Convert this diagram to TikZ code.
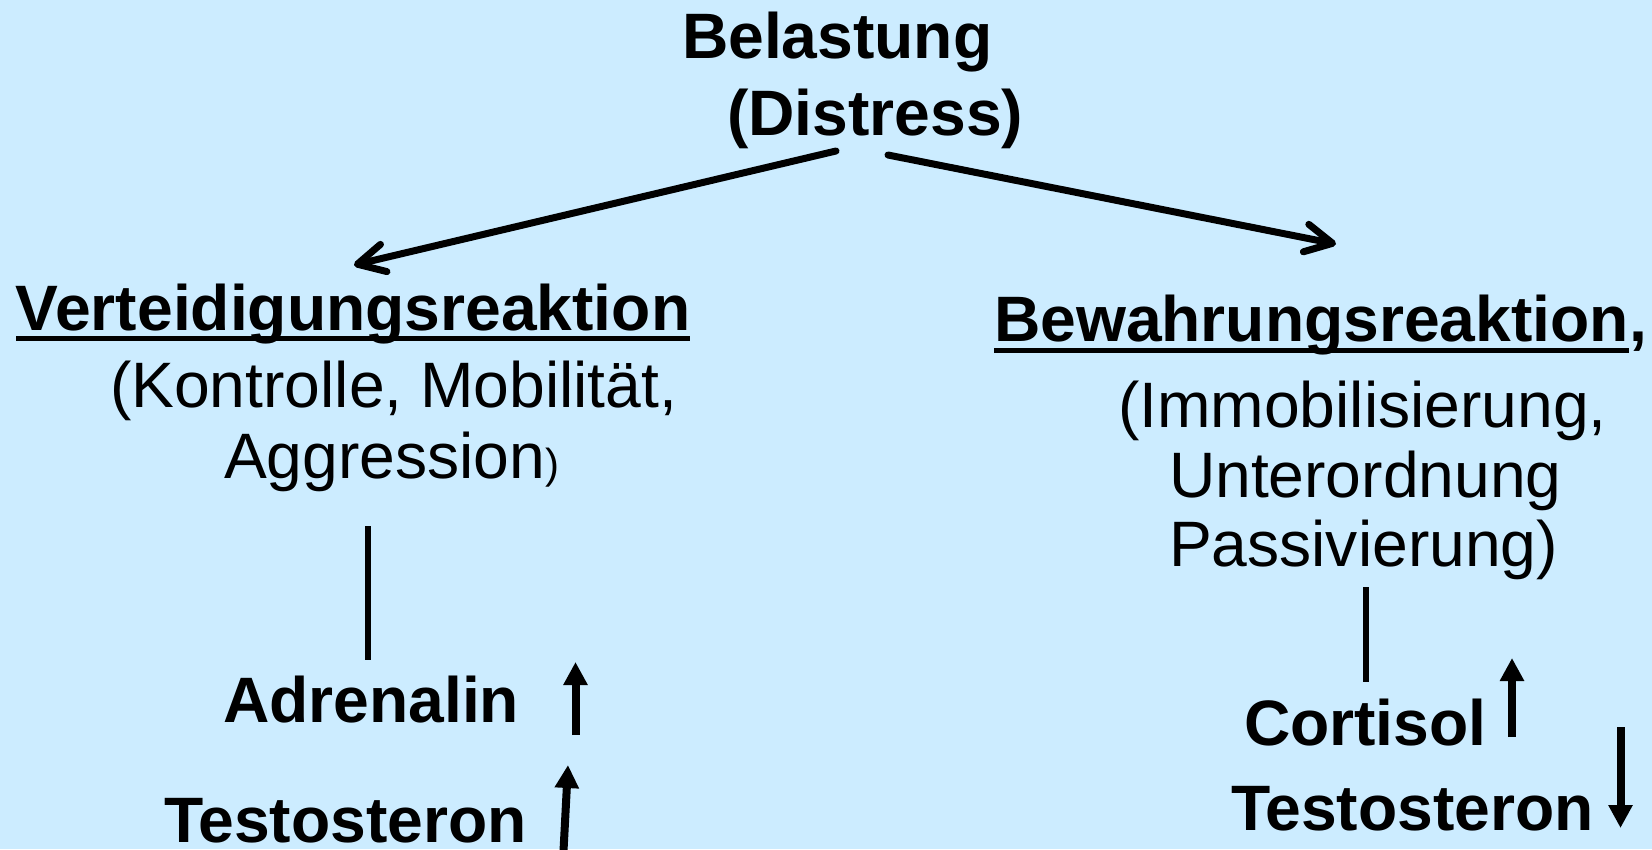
\documentclass[tikz,border=0pt]{standalone}
\usepackage{fontspec}
\setmainfont{Liberation Sans}
\usetikzlibrary{arrows.meta}
\definecolor{bgblue}{RGB}{204,236,255}

\begin{document}
\begin{tikzpicture}[x=1pt,y=-1pt,
  lbl/.style={inner sep=0pt, outer sep=0pt, anchor=base west,
    font=\fontsize{64.2}{76}\selectfont},
  head/.style={lbl, font=\fontsize{64.2}{76}\selectfont\bfseries},
  branch/.style={line width=7pt, line cap=round, line join=round,
    -{Straight Barb[length=27pt,width=28pt,line cap=round,line join=round]}},
  link/.style={line width=6pt},
  trend/.style={line width=8pt, -{Triangle[length=23pt,width=23pt]}},
  uline/.style={line width=5pt}
]
% page and background
\useasboundingbox (0,0) rectangle (1652,849);
\clip (0,0) rectangle (1652,849);
\fill[bgblue] (0,0) rectangle (1652,849);

% top: the load
\node[head] (bel) at (682,58) {Belastung};
\node[head] (dis) at (727,135) {(Distress)};

% left branch
\node[head] (vr) at (16,330) {Verteidigungsreaktion};
\node[lbl] (vr1) at (110,407) {(Kontrolle, Mobilität,};
\node[lbl] (vr2) at (224,478) {Aggression{\fontsize{42}{42}\selectfont)}};
\node[head] (adr) at (223,722) {Adrenalin};
\node[head] (tl) at (164,842) {Testosteron};

% right branch
\node[head] (br) at (994,341) {Bewahrungsreaktion\rlap{,}};
\node[lbl] (br1) at (1118,427) {(Immobilisierung,};
\node[lbl] (br2) at (1169,497) {Unterordnung};
\node[lbl] (br3) at (1169,566) {Passivierung)};
\node[head] (cor) at (1244,745) {Cortisol};
\node[head] (tr) at (1231,830) {Testosteron};

% underlines of the two reactions
\draw[uline] ([yshift=-8pt]vr.base west) -- ([yshift=-8pt]vr.base east);
\draw[uline] ([yshift=-9pt]br.base west) -- ([yshift=-9pt]br.base east);

% branching arrows
\coordinate (sL) at (836,151);
\coordinate (eL) at (354,265);
\coordinate (sR) at (888,155);
\coordinate (eR) at (1336,244);
\draw[branch] (sL) -- (eL);
\draw[branch] (sR) -- (eR);

% links down to the hormones
\draw[link] (368,526) coordinate (lt) -- (368,660) coordinate (lb);
\draw[link] (1366,587) coordinate (rt) -- (1366,682) coordinate (rb);

% trend arrows
\draw[trend] (575.5,735) coordinate (a1) -- (575.5,662) coordinate (a2);
\draw[trend] (562.5,870) coordinate (b1) -- (568,765) coordinate (b2);
\draw[trend] (1512,737) coordinate (c1) -- (1512,658) coordinate (c2);
\draw[trend] (1620.5,727) coordinate (d1) -- (1620.5,828) coordinate (d2);
\end{tikzpicture}
\end{document}
